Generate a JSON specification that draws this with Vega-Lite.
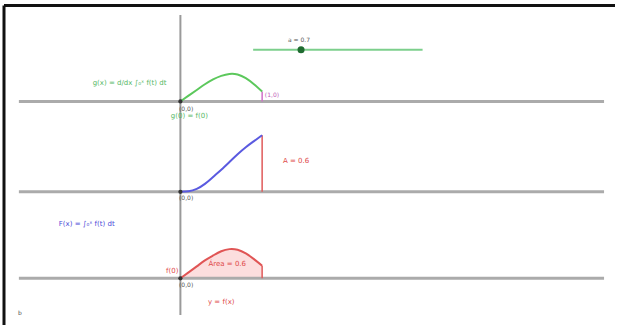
{
  "$schema": "https://vega.github.io/schema/vega-lite/v6.json",
  "width": 617,
  "height": 327,
  "padding": 0,
  "autosize": {"type": "fit", "contains": "padding"},
  "background": "white",
  "config": {"view": {"stroke": null}, "text": {"font": "DejaVu Sans", "fontSize": 7}},
  "datasets": {
    "curves": [
      {"series": "g", "x": 0.0, "y": 2.171}, {"series": "g", "x": 0.1, "y": 2.241}, {"series": "g", "x": 0.2, "y": 2.311},
      {"series": "g", "x": 0.3, "y": 2.381}, {"series": "g", "x": 0.4, "y": 2.441}, {"series": "g", "x": 0.5, "y": 2.484},
      {"series": "g", "x": 0.6, "y": 2.508}, {"series": "g", "x": 0.7, "y": 2.501}, {"series": "g", "x": 0.8, "y": 2.456},
      {"series": "g", "x": 0.9, "y": 2.381}, {"series": "g", "x": 1.0, "y": 2.291},
      {"series": "F", "x": 0.0, "y": 1.061}, {"series": "F", "x": 0.1, "y": 1.067}, {"series": "F", "x": 0.2, "y": 1.098},
      {"series": "F", "x": 0.3, "y": 1.159}, {"series": "F", "x": 0.4, "y": 1.244}, {"series": "F", "x": 0.5, "y": 1.332},
      {"series": "F", "x": 0.6, "y": 1.427}, {"series": "F", "x": 0.7, "y": 1.522}, {"series": "F", "x": 0.8, "y": 1.608},
      {"series": "F", "x": 0.9, "y": 1.683}, {"series": "F", "x": 1.0, "y": 1.756},
      {"series": "f", "x": 0.0, "y": 0.0}, {"series": "f", "x": 0.1, "y": 0.073}, {"series": "f", "x": 0.2, "y": 0.146},
      {"series": "f", "x": 0.3, "y": 0.22}, {"series": "f", "x": 0.4, "y": 0.28}, {"series": "f", "x": 0.5, "y": 0.332},
      {"series": "f", "x": 0.6, "y": 0.358}, {"series": "f", "x": 0.7, "y": 0.35}, {"series": "f", "x": 0.8, "y": 0.305},
      {"series": "f", "x": 0.9, "y": 0.235}, {"series": "f", "x": 1.0, "y": 0.155}
    ],
    "lines": [
      {"kind": "haxis", "x": -1.976, "x2": 5.183, "y": 2.171, "y2": 2.171},
      {"kind": "haxis", "x": -1.976, "x2": 5.183, "y": 1.061, "y2": 1.061},
      {"kind": "haxis", "x": -1.976, "x2": 5.183, "y": 0.0, "y2": 0.0},
      {"kind": "vaxis", "x": 0.0, "x2": 0.0, "y": 3.232, "y2": -0.451},
      {"kind": "frame", "x": -2.158, "x2": 5.317, "y": 3.348, "y2": 3.348},
      {"kind": "frame", "x": -2.158, "x2": -2.158, "y": 3.348, "y2": -0.573},
      {"kind": "slider", "x": 0.89, "x2": 2.963, "y": 2.805, "y2": 2.805},
      {"kind": "redline", "x": 1.0, "x2": 1.0, "y": 1.061, "y2": 1.756},
      {"kind": "redline", "x": 1.0, "x2": 1.0, "y": 0.0, "y2": 0.155},
      {"kind": "pinkline", "x": 1.0, "x2": 1.0, "y": 2.171, "y2": 2.291}
    ],
    "points": [
      {"kind": "slider", "x": 1.476, "y": 2.805},
      {"kind": "origin", "x": 0.0, "y": 2.171},
      {"kind": "origin", "x": 0.0, "y": 1.061},
      {"kind": "origin", "x": 0.0, "y": 0.0}
    ],
    "labels": [
      {"group": "green", "x": -0.622, "y": 2.402, "text": "g(x) = d/dx ∫₀ˣ f(t) dt"},
      {"group": "green", "x": 0.11, "y": 1.988, "text": "g(0) = f(0)"},
      {"group": "dark", "x": 1.451, "y": 2.927, "text": "a = 0.7"},
      {"group": "dark", "x": 0.07, "y": 2.08, "text": "(0,0)"},
      {"group": "dark", "x": 0.07, "y": 0.985, "text": "(0,0)"},
      {"group": "dark", "x": 0.07, "y": -0.085, "text": "(0,0)"},
      {"group": "dark", "x": -1.963, "y": -0.427, "text": "b"},
      {"group": "pink", "x": 1.12, "y": 2.244, "text": "(1,0)"},
      {"group": "red", "x": 1.415, "y": 1.439, "text": "A = 0.6"},
      {"group": "red", "x": 0.573, "y": 0.171, "text": "Área = 0.6"},
      {"group": "red", "x": 0.5, "y": -0.293, "text": "y = f(x)"},
      {"group": "red", "x": -0.1, "y": 0.085, "text": "f(0)"},
      {"group": "blue", "x": -1.146, "y": 0.671, "text": "F(x) = ∫₀ˣ f(t) dt"}
    ]
  },
  "encoding": {
    "x": {"field": "x", "type": "quantitative", "scale": {"domain": [-2.207, 5.317], "nice": false, "zero": false}, "axis": null},
    "y": {"field": "y", "type": "quantitative", "scale": {"domain": [-0.573, 3.415], "nice": false, "zero": false}, "axis": null}
  },
  "layer": [
    {
      "data": {"name": "curves"},
      "transform": [{"filter": "datum.series == 'f'"}],
      "mark": {"type": "area", "color": "#fcdede", "interpolate": "natural"},
      "encoding": {"y2": {"datum": 0}}
    },
    {
      "data": {"name": "lines"},
      "transform": [{"filter": "datum.kind == 'haxis'"}],
      "mark": {"type": "rule", "color": "#ababab", "strokeWidth": 3},
      "encoding": {"x2": {"field": "x2"}, "y2": {"field": "y2"}}
    },
    {
      "data": {"name": "lines"},
      "transform": [{"filter": "datum.kind == 'vaxis'"}],
      "mark": {"type": "rule", "color": "#9a9a9a", "strokeWidth": 2},
      "encoding": {"x2": {"field": "x2"}, "y2": {"field": "y2"}}
    },
    {
      "data": {"name": "lines"},
      "transform": [{"filter": "datum.kind == 'frame'"}],
      "mark": {"type": "rule", "color": "#111111", "strokeWidth": 3},
      "encoding": {"x2": {"field": "x2"}, "y2": {"field": "y2"}}
    },
    {
      "data": {"name": "lines"},
      "transform": [{"filter": "datum.kind == 'slider'"}],
      "mark": {"type": "rule", "color": "#7ccf8c", "strokeWidth": 2},
      "encoding": {"x2": {"field": "x2"}, "y2": {"field": "y2"}}
    },
    {
      "data": {"name": "lines"},
      "transform": [{"filter": "datum.kind == 'redline'"}],
      "mark": {"type": "rule", "color": "#e05a5a", "strokeWidth": 1.5},
      "encoding": {"x2": {"field": "x2"}, "y2": {"field": "y2"}}
    },
    {
      "data": {"name": "lines"},
      "transform": [{"filter": "datum.kind == 'pinkline'"}],
      "mark": {"type": "rule", "color": "#d070c8", "strokeWidth": 1.5},
      "encoding": {"x2": {"field": "x2"}, "y2": {"field": "y2"}}
    },
    {
      "data": {"name": "curves"},
      "mark": {"type": "line", "strokeWidth": 2, "interpolate": "natural"},
      "encoding": {
        "color": {"field": "series", "type": "nominal", "legend": null,
          "scale": {"domain": ["g", "F", "f"], "range": ["#5cc85c", "#5a5ae0", "#e05555"]}}
      }
    },
    {
      "data": {"name": "points"},
      "transform": [{"filter": "datum.kind == 'slider'"}],
      "mark": {"type": "point", "filled": true, "color": "#1f6b30", "size": 50, "opacity": 1}
    },
    {
      "data": {"name": "points"},
      "transform": [{"filter": "datum.kind == 'origin'"}],
      "mark": {"type": "point", "filled": true, "color": "#333333", "size": 18, "opacity": 1}
    },
    {
      "data": {"name": "labels"},
      "transform": [{"filter": "datum.group == 'green'"}],
      "mark": {"type": "text", "color": "#55b866", "align": "center", "baseline": "middle"},
      "encoding": {"text": {"field": "text"}}
    },
    {
      "data": {"name": "labels"},
      "transform": [{"filter": "datum.group == 'dark'"}],
      "mark": {"type": "text", "color": "#555555", "align": "center", "baseline": "middle", "fontSize": 6},
      "encoding": {"text": {"field": "text"}}
    },
    {
      "data": {"name": "labels"},
      "transform": [{"filter": "datum.group == 'pink'"}],
      "mark": {"type": "text", "color": "#c060b8", "align": "center", "baseline": "middle", "fontSize": 6},
      "encoding": {"text": {"field": "text"}}
    },
    {
      "data": {"name": "labels"},
      "transform": [{"filter": "datum.group == 'red'"}],
      "mark": {"type": "text", "color": "#e04a4a", "align": "center", "baseline": "middle"},
      "encoding": {"text": {"field": "text"}}
    },
    {
      "data": {"name": "labels"},
      "transform": [{"filter": "datum.group == 'blue'"}],
      "mark": {"type": "text", "color": "#4a4ad8", "align": "center", "baseline": "middle"},
      "encoding": {"text": {"field": "text"}}
    }
  ]
}
